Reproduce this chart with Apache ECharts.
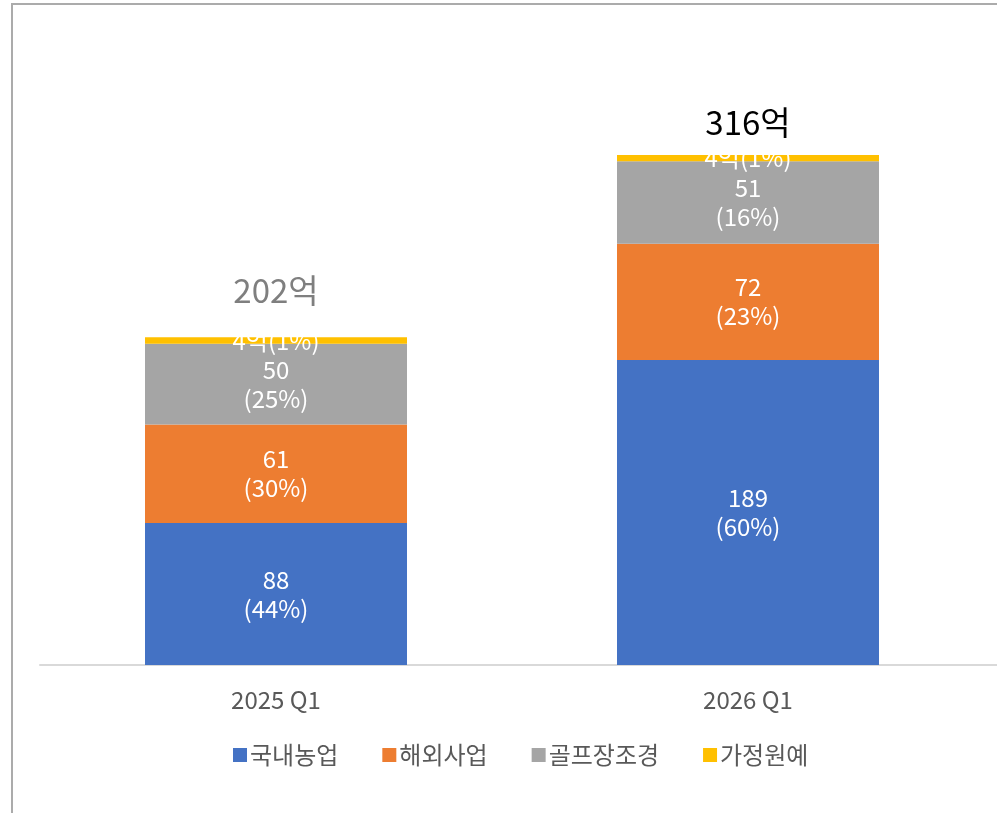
<!DOCTYPE html>
<html>
<head>
<meta charset="utf-8">
<style>
html, body { margin:0; padding:0; background:#fff; }
#wrap { position:relative; width:997px; height:813px; overflow:hidden; }
#chart { position:absolute; left:0; top:0; width:997px; height:813px; }
#frame { position:absolute; left:11px; top:3px; width:1000px; height:900px;
         border-left:2px solid #ababab; border-top:2px solid #ababab; pointer-events:none; }
</style>
</head>
<body>
<div id="wrap">
  <div id="chart"></div>
  <div id="frame"></div>
</div>
<script src="https://cdn.jsdelivr.net/npm/echarts@6/dist/echarts.min.js"></script>
<script>
var categories = ['2025 Q1', '2026 Q1'];
var names = ['국내농업', '해외사업', '골프장조경', '가정원예'];
var domestic = [88, 189];
var overseas = [61, 72];
var golf = [50, 51];
var garden = [4, 4];
var domesticPct = [44, 60];
var overseasPct = [30, 23];
var golfPct = [25, 16];
var gardenPct = [1, 1];
var totalLabels = ['202억', '316억'];

var font = '"Noto Sans CJK KR", "Noto Sans", sans-serif';

function inner(pcts) {
    return {
        show: true,
        position: 'inside',
        color: '#fff',
        fontSize: 24,
        lineHeight: 29,
        fontFamily: font,
        formatter: function (p) { return p.value + '\n(' + pcts[p.dataIndex] + '%)'; }
    };
}

function seg(name, data, color, label) {
    return {
        name: name,
        type: 'bar',
        stack: 'all',
        barWidth: 262,
        data: data,
        itemStyle: { color: color },
        label: label
    };
}

var myChart = echarts.init(document.getElementById('chart'));

var option = {
    animation: false,
    textStyle: { fontFamily: font },
    grid: { left: 40, right: 13, top: 100, bottom: 148 },
    legend: {
        data: names,
        top: 738,
        left: 228,
        icon: 'rect',
        itemWidth: 14,
        itemHeight: 14,
        itemGap: 44,
        textStyle: { color: '#595959', fontSize: 24, fontFamily: font, padding: [0, 0, 0, -2] }
    },
    xAxis: {
        type: 'category',
        data: categories,
        axisLine: { lineStyle: { color: '#d9d9d9', width: 2 } },
        axisTick: { show: false },
        axisLabel: { color: '#595959', fontSize: 24, margin: 23, fontFamily: font }
    },
    yAxis: {
        type: 'value',
        min: 0,
        max: 350,
        show: false,
        splitLine: { show: false }
    },
    series: [
        seg(names[0], domestic, '#4472C4', inner(domesticPct)),
        seg(names[1], overseas, '#ED7D31', inner(overseasPct)),
        seg(names[2], golf, '#A5A5A5', inner(golfPct)),
        seg(names[3], garden, '#FFC000', {
            show: true,
            position: 'inside',
            color: '#fff',
            fontSize: 24,
            fontFamily: font,
            formatter: function (p) { return p.value + '억(' + gardenPct[p.dataIndex] + '%)'; }
        }),
        {
            name: 'total',
            type: 'bar',
            stack: 'all',
            barWidth: 262,
            data: [
                { value: 0, label: { color: '#7f7f7f', offset: [0, -25] } },
                { value: 0, label: { color: '#000000', offset: [0, -11] } }
            ],
            itemStyle: { color: 'rgba(0,0,0,0)' },
            label: {
                show: true,
                position: 'top',
                distance: 5,
                fontSize: 33,
                lineHeight: 33,
                fontFamily: font,
                formatter: function (p) { return totalLabels[p.dataIndex]; }
            }
        }
    ],
    graphic: [
        { type: 'line', shape: { x1: 984, y1: 665, x2: 997, y2: 665 },
          style: { stroke: '#d9d9d9', lineWidth: 2 } }
    ]
};

myChart.setOption(option);
</script>
</body>
</html>
